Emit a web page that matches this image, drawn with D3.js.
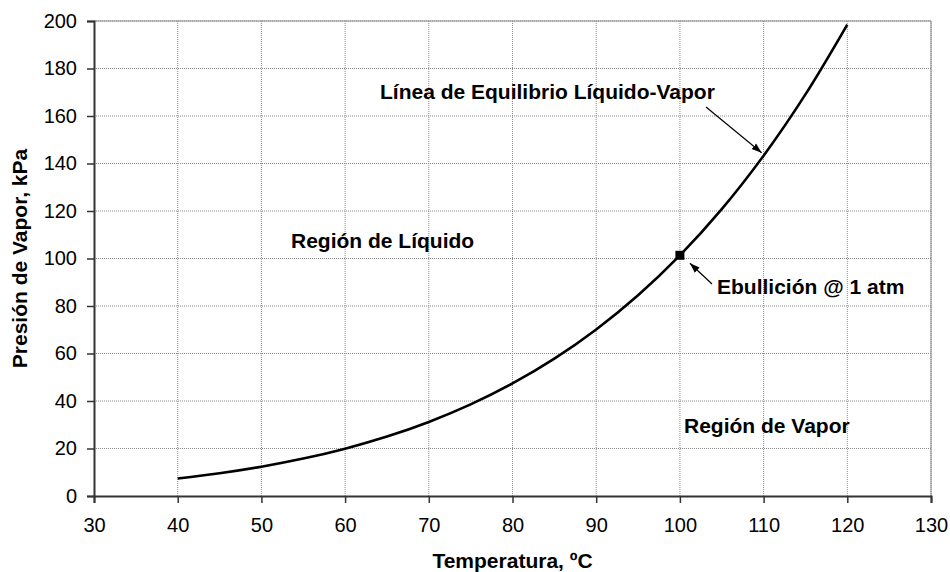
<!DOCTYPE html>
<html>
<head>
<meta charset="utf-8">
<script src="https://cdn.jsdelivr.net/npm/d3@7/dist/d3.min.js"></script>
<style>
  html, body { margin: 0; padding: 0; background: #fff; }
  svg { display: block; font-family: "Liberation Sans", Arial, sans-serif; }
</style>
</head>
<body>
<svg id="chart" width="950" height="572"></svg>
<script>
// Water vapour pressure vs. temperature
const temperatures = [40, 45, 50, 55, 60, 65, 70, 75, 80, 85, 90, 95, 100, 105, 110, 115, 120];
const pressures    = [7.38, 9.59, 12.35, 15.76, 19.94, 25.03, 31.19, 38.58, 47.39, 57.83, 70.14, 84.55, 101.35, 120.8, 143.3, 169.1, 198.5];
const xTicks = [30, 40, 50, 60, 70, 80, 90, 100, 110, 120, 130];
const yTicks = [0, 20, 40, 60, 80, 100, 120, 140, 160, 180, 200];
const boilingPoint = { t: 100, p: 101.35 };

const svg = d3.select("#chart");
const margin = { left: 94, right: 19, top: 21, bottom: 76 };
const W = 950, H = 572;
const x = d3.scaleLinear().domain([30, 130]).range([margin.left, W - margin.right]);
const y = d3.scaleLinear().domain([0, 200]).range([H - margin.bottom, margin.top]);

// dotted grid
const grid = svg.append("g");
grid.selectAll("line.v").data(xTicks.slice(1)).join("line")
  .attr("x1", d => x(d)).attr("x2", d => x(d))
  .attr("y1", y(0)).attr("y2", y(200))
  .attr("stroke", "#8a8a8a").attr("stroke-width", 1).attr("stroke-dasharray", "1,1");
grid.selectAll("line.h").data(yTicks.slice(1)).join("line")
  .attr("x1", x(30)).attr("x2", x(130))
  .attr("y1", d => y(d)).attr("y2", d => y(d))
  .attr("stroke", "#8a8a8a").attr("stroke-width", 1).attr("stroke-dasharray", "1,1");

// plot-area border (top/right)
svg.append("path")
  .attr("d", `M${x(30)},${y(200)}H${x(130)}V${y(0)}`)
  .attr("fill", "none").attr("stroke", "#8a8a8a").attr("stroke-width", 1);

// axes
const xAxis = svg.append("g").attr("transform", `translate(0,${y(0)})`)
  .call(d3.axisBottom(x).tickValues(xTicks).tickSize(7).tickPadding(15).tickFormat(d3.format("d")));
const yAxis = svg.append("g").attr("transform", `translate(${x(30)},0)`)
  .call(d3.axisLeft(y).tickValues(yTicks).tickSize(7).tickPadding(10).tickFormat(d3.format("d")));
[xAxis, yAxis].forEach(a => {
  a.select(".domain").attr("stroke", "#333").attr("stroke-width", 2);
  a.selectAll(".tick line").attr("stroke", "#333").attr("stroke-width", 1.5);
  a.selectAll(".tick text").attr("font-size", 20).attr("fill", "#000")
    .attr("font-family", "'Liberation Sans', Arial, sans-serif");
});

// saturation curve
const line = d3.line().x((d, i) => x(temperatures[i])).y(d => y(d)).curve(d3.curveCatmullRom);
svg.append("path").datum(pressures)
  .attr("d", line).attr("fill", "none").attr("stroke", "#000").attr("stroke-width", 2.6);

// boiling point marker
svg.append("rect")
  .attr("x", x(boilingPoint.t) - 4.5).attr("y", y(boilingPoint.p) - 4.5)
  .attr("width", 9).attr("height", 9).attr("fill", "#000");

// arrowheads
svg.append("defs").append("marker")
  .attr("id", "arrow").attr("viewBox", "0 0 10 10").attr("refX", 10).attr("refY", 5)
  .attr("markerWidth", 10).attr("markerHeight", 10).attr("orient", "auto")
  .attr("markerUnits", "userSpaceOnUse")
  .append("path").attr("d", "M0,1.5L10,5L0,8.5Z").attr("fill", "#000");

svg.append("line")
  .attr("x1", 706).attr("y1", 107).attr("x2", x(110) - 2).attr("y2", y(143.3) - 3)
  .attr("stroke", "#000").attr("stroke-width", 1.2).attr("marker-end", "url(#arrow)");
svg.append("line")
  .attr("x1", 712).attr("y1", 284).attr("x2", x(boilingPoint.t) + 10).attr("y2", y(boilingPoint.p) + 8)
  .attr("stroke", "#000").attr("stroke-width", 1.2).attr("marker-end", "url(#arrow)");

// annotations
const label = (t, px, py, anchor) => svg.append("text")
  .attr("x", px).attr("y", py).attr("text-anchor", anchor || "start")
  .attr("font-size", 21).attr("font-weight", "bold").attr("fill", "#000").text(t);
label("Línea de Equilibrio Líquido-Vapor", 380, 99);
label("Región de Líquido", 291, 248);
label("Ebullición @ 1 atm", 717, 294);
label("Región de Vapor", 684, 433);

// axis titles
svg.append("text").attr("x", (x(30) + x(130)) / 2).attr("y", 568)
  .attr("text-anchor", "middle").attr("font-size", 21).attr("font-weight", "bold")
  .text("Temperatura, ºC");
svg.append("text").attr("transform", `translate(27,${(y(0) + y(200)) / 2}) rotate(-90)`)
  .attr("text-anchor", "middle").attr("font-size", 21).attr("font-weight", "bold")
  .text("Presión de Vapor, kPa");
</script>
</body>
</html>
